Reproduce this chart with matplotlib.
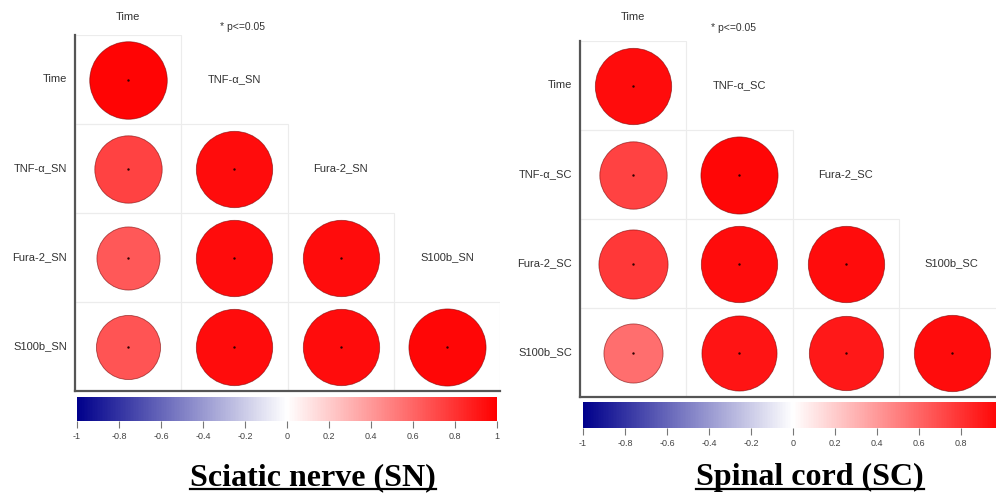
import matplotlib
matplotlib.use('Agg')
import matplotlib.pyplot as plt
import numpy as np
from matplotlib.colors import LinearSegmentedColormap, Normalize
from matplotlib.cm import ScalarMappable
from matplotlib.patches import Rectangle
from matplotlib.lines import Line2D

# data (lower triangle, row by row)
sn_rows = ['Time', 'TNF-α_SN', 'Fura-2_SN', 'S100b_SN']
sn_diag = ['TNF-α_SN', 'Fura-2_SN', 'S100b_SN']
sn_vals = [[0.98],
           [0.74, 0.95],
           [0.65, 0.95, 0.95],
           [0.67, 0.95, 0.95, 0.97]]

sc_rows = ['Time', 'TNF-α_SC', 'Fura-2_SC', 'S100b_SC']
sc_diag = ['TNF-α_SC', 'Fura-2_SC', 'S100b_SC']
sc_vals = [[0.95],
           [0.74, 0.97],
           [0.78, 0.95, 0.95],
           [0.57, 0.92, 0.90, 0.95]]

cbar_ticks = [-1, -0.8, -0.6, -0.4, -0.2, 0, 0.2, 0.4, 0.6, 0.8, 1]

W, H = 996, 493
fig = plt.figure(figsize=(W / 100, H / 100), dpi=100, facecolor='white')
cmap = LinearSegmentedColormap.from_list('bwr_corr', ['#00008B', '#FFFFFF', '#FF0000'])
norm = Normalize(-1, 1)
LABEL_FONT = 'Liberation Sans'


def px_axes(x0, y0, x1, y1):
    # box given in pixels measured from the top-left corner
    return fig.add_axes([x0 / W, (H - y1) / H, (x1 - x0) / W, (y1 - y0) / H])


def corr_panel(box, rows, diag, vals, top_y, pval_xy):
    ax = px_axes(*box)
    n = len(rows)
    ax.set_xlim(0, n)
    ax.set_ylim(n, 0)
    row_px = (box[3] - box[1]) / n
    for i, row in enumerate(vals):
        for j, v in enumerate(row):
            ax.add_patch(Rectangle((j, i), 1, 1, fill=False, ec='#ececec', lw=0.8))
            d_pt = 0.88 * row_px * np.sqrt(abs(v)) * 72 / 100
            ax.scatter(j + 0.5, i + 0.5, s=d_pt ** 2, color=cmap(norm(v)),
                       edgecolors=(0.45, 0, 0, 0.6), linewidths=0.6, zorder=3)
            ax.scatter(j + 0.5, i + 0.5, s=3, color='#300000', zorder=4, linewidths=0)
    for i, lab in enumerate(rows):
        ax.text(-0.075, i + 0.5, lab, ha='right', va='center', fontsize=8,
                color='#333333', family=LABEL_FONT)
    for i, lab in enumerate(diag):
        ax.text(i + 1.5, i + 0.5, lab, ha='center', va='center', fontsize=8,
                color='#333333', family=LABEL_FONT)
    ax.text(0.5, top_y, rows[0], ha='center', va='center', fontsize=8,
            color='#333333', family=LABEL_FONT)
    ax.text(pval_xy[0], pval_xy[1], '* p<=0.05', ha='center', va='center',
            fontsize=7.5, color='#333333', family=LABEL_FONT)
    for s in ['top', 'right']:
        ax.spines[s].set_visible(False)
    for s in ['left', 'bottom']:
        ax.spines[s].set_color('#555555')
        ax.spines[s].set_linewidth(1.6)
    ax.set_xticks([])
    ax.set_yticks([])
    return ax


def color_bar(box, last_label=True):
    cax = px_axes(*box)
    cb = fig.colorbar(ScalarMappable(norm=norm, cmap=cmap), cax=cax, orientation='horizontal')
    cb.outline.set_visible(False)
    cb.set_ticks(cbar_ticks)
    labels = [f'{t:g}' for t in cbar_ticks]
    if not last_label:
        # the "1" falls past the picture's right edge
        labels[-1] = ''
    cb.set_ticklabels(labels)
    cax.tick_params(axis='x', length=5, width=0.8, color='#777777', labelsize=6.5,
                    labelcolor='#444444', pad=3)
    for t in cax.get_xticklabels():
        t.set_family(LABEL_FONT)
    return cb


def underlined_title(x, y, text):
    t = fig.text(x / W, 1 - y / H, text, ha='center', va='baseline', fontsize=23,
                 fontweight='bold', family='Liberation Serif', color='black')
    fig.canvas.draw()
    bb = t.get_window_extent()
    uy = (H - y - 4) / H
    fig.add_artist(Line2D([bb.x0 / W, bb.x1 / W], [uy, uy], transform=fig.transFigure,
                          color='black', lw=1.6))


# Sciatic nerve
corr_panel((75, 35, 500, 391), sn_rows, sn_diag, sn_vals, -0.2, (1.58, -0.09))
color_bar((77, 397, 497, 421))
# Spinal cord
corr_panel((580, 41, 1005, 397), sc_rows, sc_diag, sc_vals, -0.27, (1.44, -0.146))
color_bar((583, 402, 1003, 428), last_label=False)

underlined_title(313, 485, 'Sciatic nerve (SN)')
underlined_title(810, 485, 'Spinal cord (SC)')

fig.savefig('out.png', dpi=100, facecolor='white')
